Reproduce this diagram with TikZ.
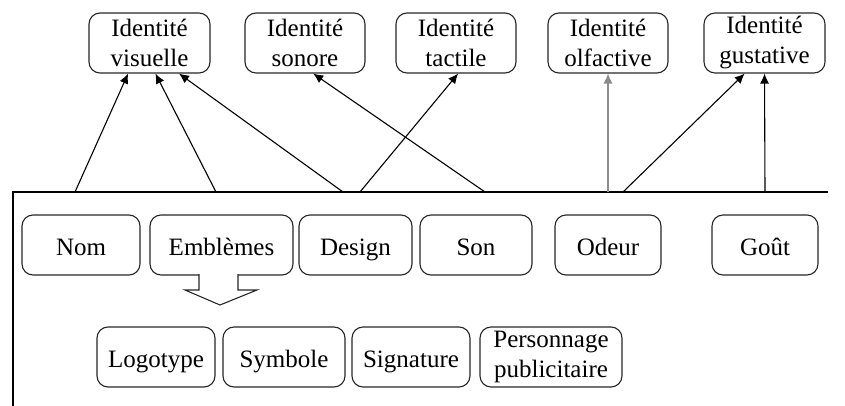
\documentclass[tikz,border=0pt]{standalone}
\usepackage{fontspec}
\setmainfont{Liberation Serif}
\usetikzlibrary{arrows.meta}

\begin{document}
\begin{tikzpicture}[x=1pt,y=-1pt,
    box/.style={draw=black!85,line width=1.1pt,rounded corners=11pt,minimum height=60pt,
      inner sep=0pt,align=center,font=\fontsize{25}{30}\selectfont},
    one/.style={box,text height=20pt,text depth=0pt},
    link/.style={line width=1.1pt,-{Latex[length=10pt,width=9pt]}}]
            \useasboundingbox (0,0) rectangle (845,406);
            \node[box,minimum width=121pt] (visuelle) at (149.5,43) {Identité\\visuelle};
            \node[box,minimum width=120pt] (sonore) at (305,43) {Identité\\sonore};
            \node[box,minimum width=120pt] (tactile) at (456,43) {Identité\\tactile};
            \node[box,minimum width=120pt] (olfactive) at (608,43) {Identité\\olfactive};
            \node[box,minimum width=121pt] (gustative) at (764.5,43) {Identité\\gustative};
            \node[one,minimum width=118pt] (nom) at (81,245) {Nom};
            \node[one,minimum width=143pt] (emblemes) at (221.5,245) {Emblèmes};
            \node[one,minimum width=113pt] (design) at (355.5,245) {Design};
            \node[one,minimum width=112pt] (son) at (476,245) {Son};
            \node[one,minimum width=106pt] (odeur) at (608,245) {Odeur};
            \node[one,minimum width=106pt] (gout) at (765,245) {Goût};
            \node[one,minimum width=118pt] (logotype) at (156,357) {Logotype};
            \node[one,minimum width=122pt] (symbole) at (284,357) {Symbole};
            \node[one,minimum width=118pt] (signature) at (411,357) {Signature};
            \node[box,minimum width=142pt] (personnage) at (551,357) {Personnage\\publicitaire};
            \draw[line width=1.2pt] (13,406) -- (13,192) -- (828,192);
            \draw[draw=black!85,line width=1.1pt,fill=white] (199,274) -- (199,290) -- (185,290) -- (220,305)
                -- (257,290) -- (238,290) -- (238,274);
            \coordinate (n1) at (75,192);
            \coordinate (e1) at (216,192);
            \coordinate (d1) at (343,192);
            \coordinate (d2) at (360,192);
            \coordinate (s1) at (485,192);
            \coordinate (o1) at (608,192);
            \coordinate (o2) at (623,192);
            \coordinate (g1) at (765,192);
            \draw[link] (n1) -- (visuelle.-125.6);
            \draw[link] (e1) -- (visuelle.-79.6);
            \draw[link] (d1) -- (visuelle.-46.5);
            \draw[link] (d2) -- (tactile.-86);
            \draw[link] (s1) -- (sonore.-75);
            \draw[link,black!45] (o1) -- (olfactive.south);
            \draw[link] (o2) -- (gustative.-123);
            \draw[link] (g1) -- (gustative.south);
        \end{tikzpicture}
\end{document}
